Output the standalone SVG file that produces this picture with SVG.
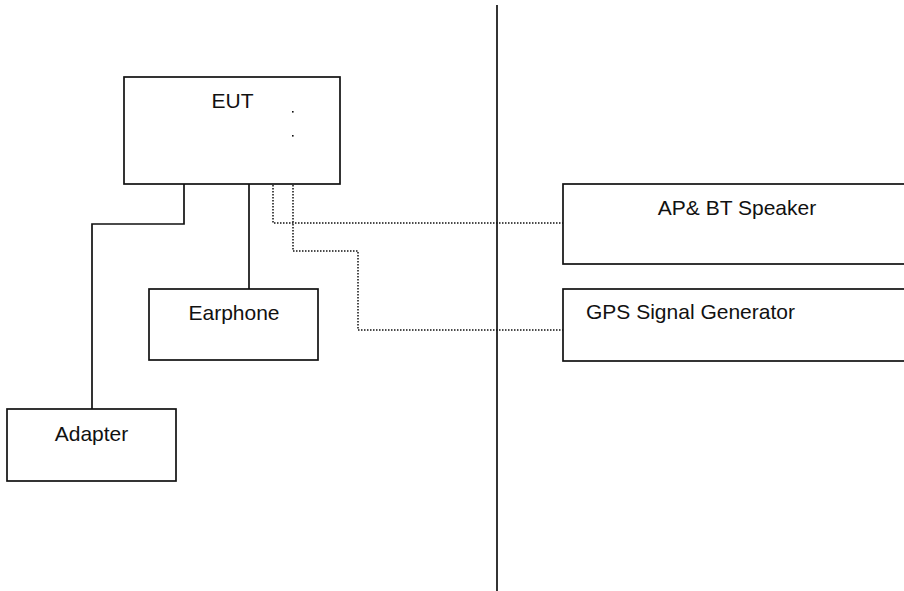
<svg xmlns="http://www.w3.org/2000/svg" width="904" height="591" viewBox="0 0 904 591">
<style>
.box{fill:#fff;stroke:#111;stroke-width:1.7}
.line{fill:none;stroke:#111;stroke-width:1.7}
.dot{fill:none;stroke:#111;stroke-width:1.5;stroke-dasharray:1.5 1.5}
.lbl{font-family:"Liberation Sans",Arial,sans-serif;font-size:21px;fill:#111}
</style>
<rect width="904" height="591" fill="#fff"/>
<g id="connectors">
<line class="line" x1="497" y1="5" x2="497" y2="591"/>
<polyline class="line" points="184,184 184,224 92,224 92,409"/>
<line class="line" x1="249" y1="184" x2="249" y2="289"/>
<polyline class="dot" points="273,185 273,223 563,223"/>
<polyline class="dot" points="293,185 293,251 358,251 358,330 563,330"/>
</g>
<g id="eut">
<rect class="box" x="124" y="77" width="216" height="107"/>
<text class="lbl" x="232.5" y="108" text-anchor="middle">EUT</text>
<rect x="292" y="111" width="1.6" height="1.6" fill="#111"/>
<rect x="292" y="135" width="1.6" height="1.6" fill="#111"/>
</g>
<g id="earphone">
<rect class="box" x="149" y="289" width="169" height="71"/>
<text class="lbl" x="234" y="320" text-anchor="middle">Earphone</text>
</g>
<g id="adapter">
<rect class="box" x="7" y="409" width="169" height="72"/>
<text class="lbl" x="91.5" y="441" text-anchor="middle">Adapter</text>
</g>
<g id="ap-bt-speaker">
<rect class="box" x="563" y="184" width="360" height="80"/>
<text class="lbl" x="737" y="215" text-anchor="middle">AP&amp; BT Speaker</text>
</g>
<g id="gps-signal-generator">
<rect class="box" x="563" y="289" width="360" height="72"/>
<text class="lbl" x="586" y="319">GPS Signal Generator</text>
</g>
</svg>
